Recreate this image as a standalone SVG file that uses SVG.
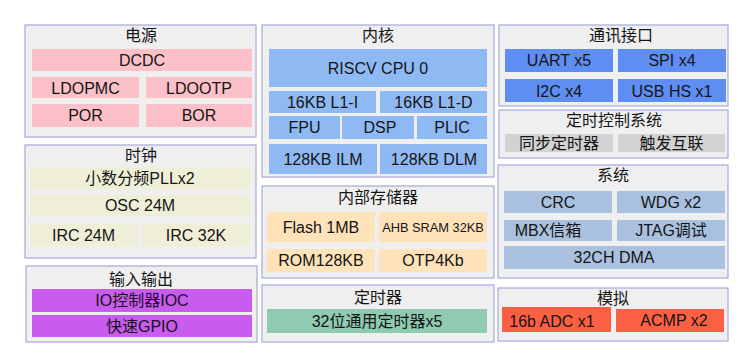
<svg xmlns="http://www.w3.org/2000/svg" width="753" height="359" viewBox="0 0 753 359">
<style>
text{font-family:"Liberation Sans","Noto Sans CJK SC",sans-serif;font-size:16px;fill:#151515;text-anchor:middle;dominant-baseline:central}
.p{fill:#efefef;stroke:#aab0dc;stroke-width:1.3}
.pk{fill:#fbc0c8}.cb{fill:#8fb9f3}.ub{fill:#5e8ef2}.gr{fill:#d2d2d2}.ck{fill:#efefd8}
.mm{fill:#fde2ba}.sy{fill:#a9c1de}.io{fill:#c95bef}.tm{fill:#8ecbb0}.an{fill:#fb6042}
</style>
<rect width="753" height="359" fill="#ffffff"/>
<g id="power">
<rect class="p" x="25" y="25" width="231" height="112"/>
<text x="141" y="35">电源</text>
<rect class="pk" x="32" y="49" width="220" height="22"/><text x="142" y="60">DCDC</text>
<rect class="pk" x="32" y="77" width="107" height="21"/><text x="85.5" y="88">LDOPMC</text>
<rect class="pk" x="146" y="77" width="106" height="21"/><text x="199" y="88">LDOOTP</text>
<rect class="pk" x="32" y="104" width="107" height="23"/><text x="85.5" y="115.5">POR</text>
<rect class="pk" x="146" y="104" width="106" height="23"/><text x="199" y="115.5">BOR</text>
</g>
<g id="clock">
<rect class="p" x="25" y="145" width="231" height="113"/>
<text x="141" y="155">时钟</text>
<rect class="ck" x="30" y="167" width="220" height="22"/><text x="140" y="178">小数分频PLLx2</text>
<rect class="ck" x="30" y="195" width="220" height="21"/><text x="140" y="205.5">OSC 24M</text>
<rect class="ck" x="30" y="224" width="107" height="22"/><text x="83.5" y="235">IRC 24M</text>
<rect class="ck" x="142" y="224" width="108" height="22"/><text x="196" y="235">IRC 32K</text>
</g>
<g id="io">
<rect class="p" x="26" y="266" width="231" height="76"/>
<text x="141" y="279">输入输出</text>
<rect class="io" x="32" y="289" width="220" height="23"/><text x="142" y="300.5">IO控制器IOC</text>
<rect class="io" x="32" y="315" width="220" height="22"/><text x="142" y="326">快速GPIO</text>
</g>
<g id="core">
<rect class="p" x="262" y="25" width="232" height="152"/>
<text x="378" y="35">内核</text>
<rect class="cb" x="269" y="49" width="218" height="38"/><text x="378" y="68">RISCV CPU 0</text>
<rect class="cb" x="269" y="91" width="107" height="22"/><text x="322.5" y="102">16KB L1-I</text>
<rect class="cb" x="380" y="91" width="107" height="22"/><text x="433.5" y="102">16KB L1-D</text>
<rect class="cb" x="269" y="116" width="71" height="23"/><text x="304.5" y="127.5">FPU</text>
<rect class="cb" x="342" y="116" width="72" height="23"/><text x="380" y="127.5">DSP</text>
<rect class="cb" x="417" y="116" width="70" height="23"/><text x="452" y="127.5">PLIC</text>
<rect class="cb" x="269" y="144" width="108" height="30"/><text x="323" y="159">128KB ILM</text>
<rect class="cb" x="380" y="144" width="107" height="30"/><text x="434" y="159">128KB DLM</text>
</g>
<g id="memory">
<rect class="p" x="262" y="186" width="232" height="92"/>
<text x="378" y="197">内部存储器</text>
<rect class="mm" x="267" y="212" width="108" height="30"/><text x="321" y="227">Flash 1MB</text>
<rect class="mm" x="379" y="212" width="108" height="30"/><text x="433" y="227" style="font-size:12.8px">AHB SRAM 32KB</text>
<rect class="mm" x="267" y="249" width="108" height="23"/><text x="321" y="260.5">ROM128KB</text>
<rect class="mm" x="379" y="249" width="108" height="23"/><text x="433" y="260.5">OTP4Kb</text>
</g>
<g id="timer">
<rect class="p" x="262" y="285" width="232" height="57"/>
<text x="378" y="297">定时器</text>
<rect class="tm" x="267" y="309" width="220" height="24"/><text x="377" y="321">32位通用定时器x5</text>
</g>
<g id="comm">
<rect class="p" x="499" y="25" width="229" height="81"/>
<text x="621" y="35">通讯接口</text>
<rect class="ub" x="505" y="49" width="108" height="23"/><text x="559" y="60.5">UART x5</text>
<rect class="ub" x="618" y="49" width="108" height="23"/><text x="672" y="60.5">SPI x4</text>
<rect class="ub" x="505" y="79" width="108" height="23"/><text x="559" y="91">I2C x4</text>
<rect class="ub" x="618" y="79" width="108" height="23"/><text x="672" y="91">USB HS x1</text>
</g>
<g id="timing">
<rect class="p" x="499" y="110" width="229" height="48"/>
<text x="614" y="120">定时控制系统</text>
<rect class="gr" x="505" y="134" width="108" height="18"/><text x="559" y="143">同步定时器</text>
<rect class="gr" x="618" y="134" width="107" height="18"/><text x="671.5" y="143">触发互联</text>
</g>
<g id="system">
<rect class="p" x="498" y="165" width="230" height="113"/>
<text x="613" y="175">系统</text>
<rect class="sy" x="504" y="191" width="108" height="22"/><text x="558" y="202">CRC</text>
<rect class="sy" x="617" y="191" width="108" height="22"/><text x="671" y="202">WDG x2</text>
<rect class="sy" x="504" y="220" width="108" height="21"/><text x="548" y="230.5">MBX信箱</text>
<rect class="sy" x="617" y="220" width="108" height="21"/><text x="671" y="230.5">JTAG调试</text>
<rect class="sy" x="504" y="246" width="221" height="23"/><text x="614" y="257.5">32CH DMA</text>
</g>
<g id="analog">
<rect class="p" x="498" y="288" width="230" height="53"/>
<text x="613" y="298">模拟</text>
<rect class="an" x="502" y="307" width="109" height="25"/><text x="552" y="321">16b ADC x1</text>
<rect class="an" x="616" y="309" width="108" height="23"/><text x="674" y="320">ACMP x2</text>
</g>
<g id="connectors"/>
</svg>
